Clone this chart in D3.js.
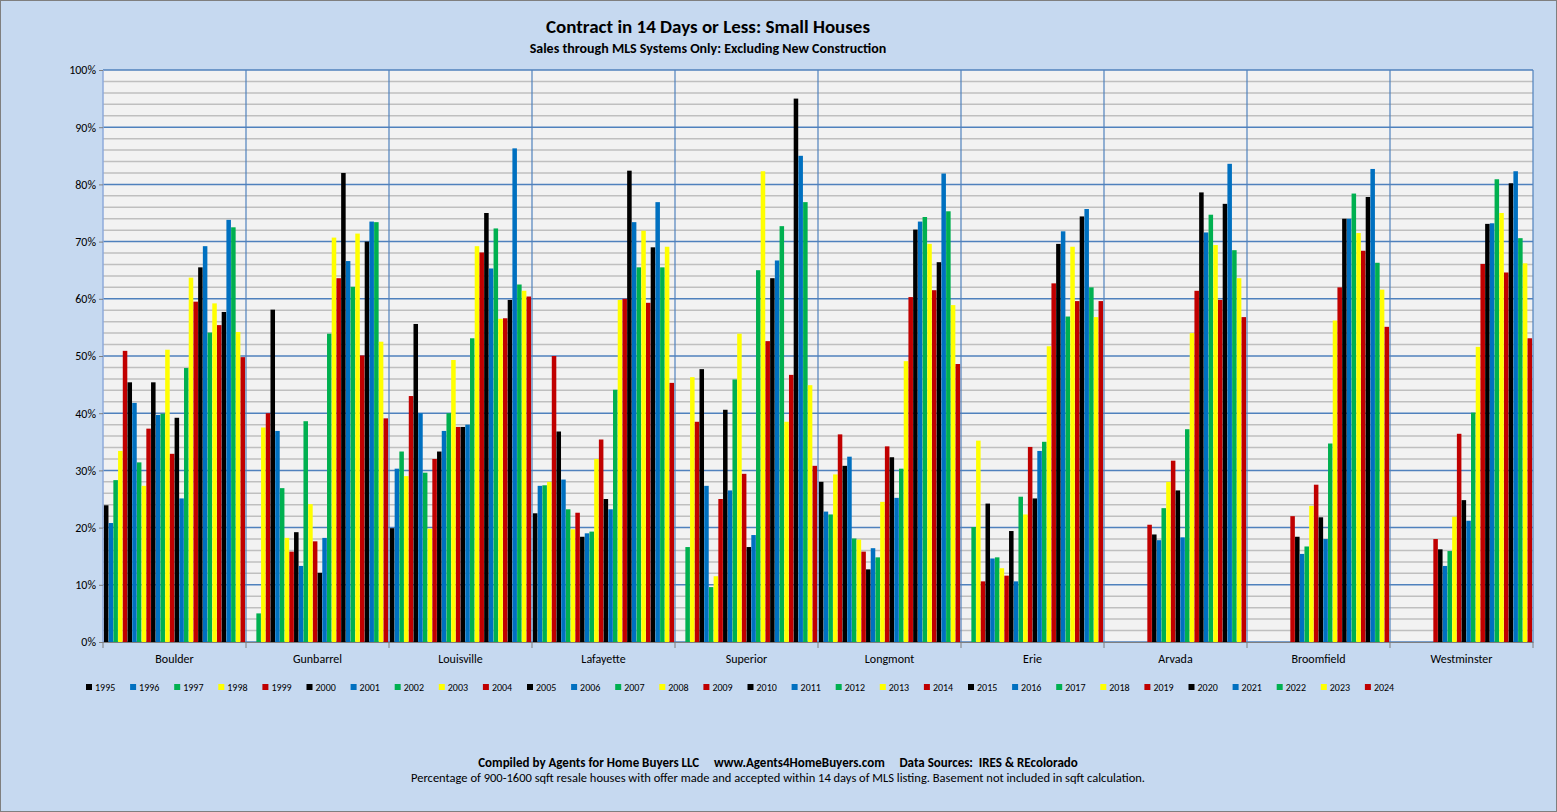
<!DOCTYPE html>
<html lang="en">
<head>
<meta charset="UTF-8">
<title>Contract in 14 Days or Less: Small Houses</title>
<script src="https://d3js.org/d3.v7.min.js"></script>
<style>
  body { margin: 0; background: #c6d9f0; font-family: Calibri, Carlito, "Liberation Sans", Arial, sans-serif; }
</style>
</head>
<body>
<div id="chart"></div>
<script>
// Data
const categories = ["Boulder", "Gunbarrel", "Louisville", "Lafayette", "Superior", "Longmont", "Erie", "Arvada", "Broomfield", "Westminster"];
const years = d3.range(1995, 2025);
const colors = ["#000000", "#0070c0", "#00b050", "#ffff00", "#c00000"];
const yTicks = [0, 10, 20, 30, 40, 50, 60, 70, 80, 90, 100];
const N9 = Array(9).fill(null);

const boulder = [23.9, 20.8, 28.3, 33.4, 50.9, 45.4, 41.8, 31.4, 27.3, 37.3, 45.4, 39.7, 39.9, 51.1, 32.9, 39.2, 25.1, 47.9, 63.7, 59.5, 65.5, 69.2, 54.1, 59.2, 55.4, 57.7, 73.8, 72.5, 54.2, 49.8];
const gunbarrel = [null, null, 5.0, 37.5, 40.0, 58.1, 36.9, 26.9, 18.2, 15.8, 19.2, 13.3, 38.6, 24.1, 17.6, 12.1, 18.2, 53.9, 70.7, 63.6, 82.0, 66.6, 62.1, 71.4, 50.1, 70.0, 73.5, 73.4, 52.5, 39.1];
const louisville = [19.9, 30.3, 33.3, 29.0, 43.0, 55.6, 40.0, 29.6, 19.8, 32.0, 33.3, 36.9, 40.0, 49.3, 37.6, 37.6, 38.0, 53.1, 69.2, 68.1, 75.0, 65.3, 72.3, 56.5, 56.6, 59.8, 86.3, 62.5, 61.4, 60.4];
const lafayette = [22.5, 27.3, 27.4, 28.0, 50.0, 36.8, 28.4, 23.2, 19.7, 22.6, 18.4, 19.0, 19.3, 32.0, 35.4, 25.0, 23.2, 44.1, 59.8, 60.0, 82.4, 73.4, 65.5, 71.9, 59.3, 69.0, 76.9, 65.5, 69.1, 45.3];
const superior = [null, null, 16.6, 46.3, 38.5, 47.7, 27.3, 9.6, 11.5, 25.0, 40.6, 26.5, 45.9, 53.9, 29.4, 16.6, 18.7, 65.0, 82.3, 52.6, 63.6, 66.7, 72.7, 38.5, 46.7, 95.0, 85.0, 76.9, 44.9, 30.8];
const longmont = [28.0, 22.8, 22.3, 29.3, 36.3, 30.8, 32.4, 18.1, 17.9, 15.8, 12.7, 16.4, 14.8, 24.5, 34.2, 32.3, 25.2, 30.3, 49.1, 60.3, 72.1, 73.5, 74.3, 69.6, 61.5, 66.4, 81.9, 75.3, 58.9, 48.6];
const erie = [null, null, 20.1, 35.2, 10.6, 24.2, 14.6, 14.8, 12.9, 11.6, 19.4, 10.6, 25.4, 22.3, 34.1, 25.1, 33.4, 35.0, 51.7, 62.7, 69.6, 71.8, 56.9, 69.1, 59.6, 74.4, 75.7, 62.0, 56.8, 59.6];
const arvada = [...N9, 20.5, 18.8, 17.8, 23.4, 28.0, 31.7, 26.5, 18.3, 37.2, 54.0, 61.4, 78.6, 71.6, 74.7, 69.4, 59.8, 76.6, 83.6, 68.5, 63.6, 56.8];
const broomfield = [...N9, 22.0, 18.4, 15.4, 16.7, 23.8, 27.5, 21.8, 18.0, 34.7, 56.2, 62.0, 74.0, 74.0, 78.4, 71.5, 68.4, 77.8, 82.7, 66.3, 61.6, 55.1];
const westminster = [...N9, 18.0, 16.2, 13.3, 15.9, 21.9, 36.4, 24.8, 21.2, 40.1, 51.6, 66.1, 73.1, 73.2, 80.9, 75.0, 64.6, 80.2, 82.3, 70.6, 66.2, 53.1];
const values = [boulder, gunbarrel, louisville, lafayette, superior, longmont, erie, arvada, broomfield, westminster];

const W = 1557, H = 812;
const plotL = 103, plotR = 1533, plotT = 70, plotB = 642;
const font = "Calibri, Carlito, 'Liberation Sans', Arial, sans-serif";

const svg = d3.select("#chart").append("svg").attr("width", W).attr("height", H)
  .attr("font-family", font);

svg.append("rect").attr("x", 0.5).attr("y", 0.5).attr("width", W - 1).attr("height", H - 1)
  .attr("fill", "#c6d9f0").attr("stroke", "#7f7f7f");

svg.append("rect").attr("x", plotL).attr("y", plotT).attr("width", plotR - plotL).attr("height", plotB - plotT)
  .attr("fill", "#f2f2f2");

const x0 = d3.scaleBand().domain(categories).range([plotL, plotR]);
const x1 = d3.scaleBand().domain(years).range([0, x0.bandwidth()]).paddingOuter(0.2).paddingInner(0.04);
const y = d3.scaleLinear().domain([0, 100]).range([plotB, plotT]);

// minor gridlines every 2%
svg.append("g").selectAll("line").data(d3.range(2, 100, 2).filter(v => v % 10 !== 0)).join("line")
  .attr("x1", plotL).attr("x2", plotR).attr("y1", d => y(d)).attr("y2", d => y(d))
  .attr("stroke", "#bfbfbf").attr("stroke-width", 1.5);

// major gridlines
svg.append("g").selectAll("line").data(yTicks).join("line")
  .attr("x1", plotL).attr("x2", plotR).attr("y1", d => y(d)).attr("y2", d => y(d))
  .attr("stroke", "#4f81bd").attr("stroke-width", 1.5);

// category separators
svg.append("g").selectAll("line").data(categories).join("line")
  .attr("x1", d => x0(d) + x0.bandwidth()).attr("x2", d => x0(d) + x0.bandwidth())
  .attr("y1", plotT).attr("y2", plotB)
  .attr("stroke", "#4f81bd").attr("stroke-width", 1.2);
svg.append("line").attr("x1", plotL).attr("x2", plotL).attr("y1", plotT).attr("y2", plotB)
  .attr("stroke", "#8eaadb").attr("stroke-width", 1.5);

// bars
categories.forEach((c, ci) => {
  const g = svg.append("g").attr("transform", `translate(${x0(c)},0)`);
  g.selectAll("rect").data(values[ci].map((v, i) => ({ v, i })).filter(d => d.v != null)).join("rect")
    .attr("x", d => x1(years[d.i]))
    .attr("width", x1.bandwidth())
    .attr("y", d => y(d.v))
    .attr("height", d => y(0) - y(d.v))
    .attr("fill", d => colors[d.i % 5]);
});

// y axis
const yAxis = svg.append("g").attr("transform", `translate(${plotL},0)`)
  .call(d3.axisLeft(y).tickValues(yTicks).tickFormat(d => d + "%").tickSize(4));
yAxis.select(".domain").remove();
yAxis.selectAll("line").attr("stroke", "#7f7f7f");
yAxis.selectAll("text").attr("font-size", 12).attr("fill", "#000").attr("font-family", font);

// x axis
const xAxis = svg.append("g").attr("transform", `translate(0,${plotB})`)
  .call(d3.axisBottom(x0).tickSize(0).tickPadding(12));
xAxis.select(".domain").attr("stroke", "#7f7f7f");
xAxis.selectAll("text").attr("font-size", 12).attr("fill", "#000").attr("font-family", font);
svg.append("g").selectAll("line").data(d3.range(categories.length + 1)).join("line")
  .attr("x1", i => plotL + i * x0.bandwidth()).attr("x2", i => plotL + i * x0.bandwidth())
  .attr("y1", plotB).attr("y2", plotB + 6).attr("stroke", "#7f7f7f");

// legend
const leg = svg.append("g").selectAll("g").data(years).join("g")
  .attr("transform", (d, i) => `translate(${86 + i * 44.1},687)`);
leg.append("rect").attr("x", 0).attr("y", -3).attr("width", 6).attr("height", 6)
  .attr("fill", (d, i) => colors[i % 5]);
leg.append("text").attr("x", 9).attr("y", 0).attr("dy", "0.35em").attr("font-size", 10).text(d => d);

// titles
svg.append("text").attr("x", 708).attr("y", 33).attr("text-anchor", "middle")
  .attr("font-size", 19).attr("font-weight", "bold").text("Contract in 14 Days or Less:  Small Houses");
svg.append("text").attr("x", 708).attr("y", 53).attr("text-anchor", "middle")
  .attr("font-size", 14).attr("font-weight", "bold").text("Sales through MLS Systems Only: Excluding New Construction");
svg.append("text").attr("x", 778).attr("y", 767).attr("text-anchor", "middle")
  .attr("font-size", 13).attr("font-weight", "bold").style("white-space", "pre")
  .text("Compiled by Agents for Home Buyers LLC     www.Agents4HomeBuyers.com     Data Sources:  IRES & REcolorado");
svg.append("text").attr("x", 778).attr("y", 782).attr("text-anchor", "middle")
  .attr("font-size", 12.5)
  .text("Percentage of 900-1600 sqft resale houses with offer made and accepted within 14 days of MLS listing. Basement not included in sqft calculation.");
</script>
</body>
</html>
